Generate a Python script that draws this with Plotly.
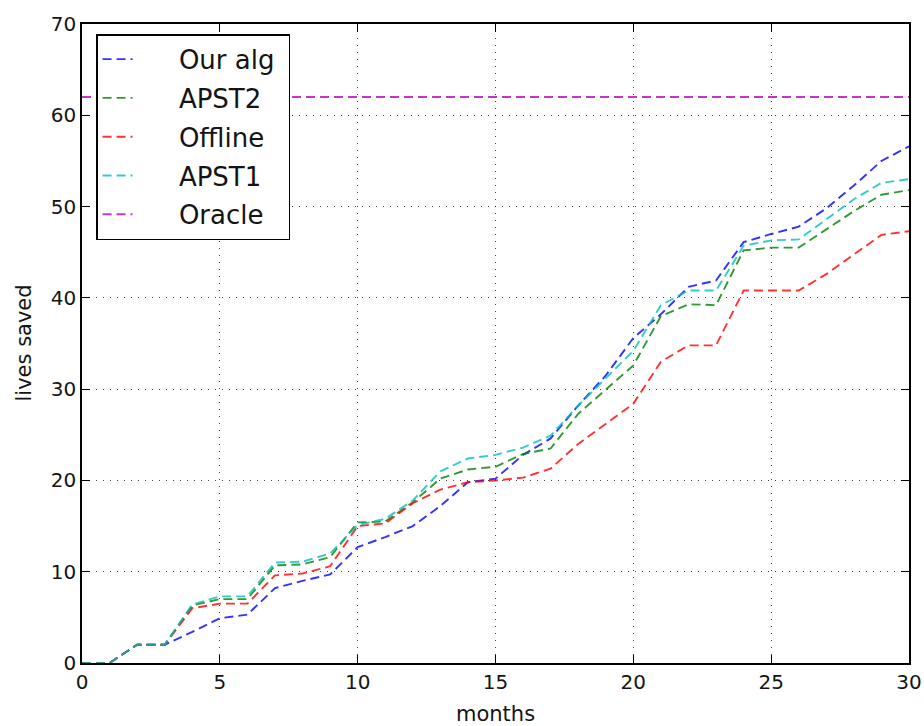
import plotly.graph_objects as go

months = list(range(31))
our_alg = [0, 0, 2, 2, 3.4, 4.9, 5.3, 8.2, 9.0, 9.7, 12.7, 13.8, 15.0, 17.2, 19.8, 20.2, 22.8, 24.6,
           28.2, 31.5, 35.6, 38.2, 41.2, 41.9, 46.1, 47.0, 47.8, 49.8, 52.3, 55.0, 56.6]
apst2 = [0, 0, 2, 2, 6.3, 7.0, 7.0, 10.7, 10.8, 11.6, 15.4, 15.5, 17.6, 20.2, 21.2, 21.5, 22.9, 23.5,
         27.3, 30.0, 32.6, 38.0, 39.3, 39.2, 45.2, 45.5, 45.5, 47.5, 49.5, 51.3, 51.8]
offline = [0, 0, 2, 2, 6.0, 6.5, 6.5, 9.6, 9.8, 10.6, 15.0, 15.3, 17.5, 19.0, 19.8, 20.0, 20.3, 21.3,
           24.0, 26.2, 28.4, 33.0, 34.8, 34.8, 40.8, 40.8, 40.8, 42.6, 44.8, 46.9, 47.3]
apst1 = [0, 0, 2, 2, 6.4, 7.3, 7.3, 11.0, 11.1, 12.0, 15.1, 15.8, 17.8, 21.0, 22.4, 22.8, 23.6, 24.9,
         28.2, 31.2, 34.2, 39.2, 40.8, 40.8, 45.7, 46.3, 46.4, 48.6, 50.8, 52.6, 53.0]
oracle = [62.0] * 31

series = [
    ("Our alg", our_alg, "rgb(0,0,255)"),
    ("APST2", apst2, "rgb(0,128,0)"),
    ("Offline", offline, "rgb(255,0,0)"),
    ("APST1", apst1, "rgb(0,191,191)"),
    ("Oracle", oracle, "rgb(191,0,191)"),
]

PAD = "\u00a0" * 5  # visual gap between legend line sample and label
TAIL = "\u00a0"

fig = go.Figure()
for i, (name, vals, col) in enumerate(series):
    fig.add_trace(go.Scatter(
        x=months, y=vals, mode="lines", name=PAD + name + TAIL, legendgroup=f"g{i}",
        line=dict(color=col, width=1.9, dash="9px,5px"), opacity=0.8,
    ))

axis_common = dict(
    showline=True, linecolor="black", linewidth=1.6, mirror="allticks",
    ticks="inside", ticklen=8, tickcolor="black", tickwidth=1,
    showgrid=True, gridcolor="rgba(0,0,0,0.75)", griddash="1px,6px", gridwidth=1,
    zeroline=False, automargin=False,
    tickfont=dict(family="DejaVu Sans", size=20, color="rgb(20,20,20)"),
)

title_font = dict(family="DejaVu Sans", size=21, color="rgb(20,20,20)")

fig.update_layout(
    width=924, height=726,
    margin=dict(l=82, r=15, t=24, b=63),
    plot_bgcolor="white", paper_bgcolor="white",
    xaxis=dict(range=[0, 30], dtick=5, **axis_common),
    yaxis=dict(range=[0, 70], dtick=10, **axis_common),
    legend=dict(x=0.017, y=0.984, xanchor="left", yanchor="top",
                bgcolor="white", bordercolor="black", borderwidth=1.5,
                font=dict(family="DejaVu Sans", size=26, color="rgb(20,20,20)"),
                tracegroupgap=2),
    showlegend=True,
    annotations=[
        dict(text="months", xref="paper", yref="paper", x=0.5, y=0,
             xanchor="center", yanchor="middle", yshift=-51, showarrow=False, font=title_font),
        dict(text="lives saved", xref="paper", yref="paper", x=0, y=0.5,
             xanchor="center", yanchor="middle", xshift=-59, textangle=-90,
             showarrow=False, font=title_font),
    ],
)

fig.write_html("out.html",
               config={"displayModeBar": False},
               post_script="document.body.style.margin='0px';document.body.style.overflow='hidden';")
